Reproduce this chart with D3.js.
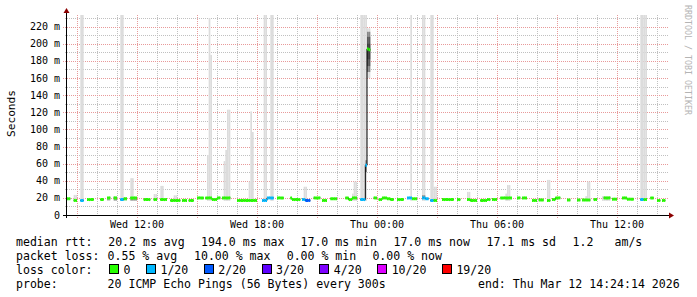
<!DOCTYPE html>
<html><head><meta charset="utf-8">
<script src="https://cdn.jsdelivr.net/npm/d3@7"></script>
<style>body{margin:0;background:#fff}svg{display:block}</style>
</head><body>
<svg id="c" width="697" height="297"></svg>
<script>
const N = null;
const startTime = new Date(2026, 2, 11, 8, 30);
const endTime = new Date(2026, 2, 12, 14, 30);
const stepMinutes = 5;

// median RTT per 5-minute step (ms), null = no line drawn
const median = [
  19,19,N,N,17,17,N,N,17,17,N,N,
  18,18,18,18,N,N,N,N,18,18,N,N,
  20,20,N,N,20,20,N,N,18,18,19,19,
  N,N,20,20,20,20,N,N,N,N,18,18,
  18,18,N,N,18,18,N,N,18,18,18,18,
  N,N,17,17,17,17,17,17,N,17,17,17,
  N,17,17,17,N,N,20,20,20,20,N,20,
  20,20,20,18,18,18,20,20,N,20,20,20,
  20,20,N,N,N,N,17,17,17,17,17,17,
  17,17,17,17,17,17,N,N,N,17,17,17,
  20,20,20,20,N,N,20,20,20,20,N,N,
  N,N,20,18,18,18,18,18,N,18,18,17,
  17,17,N,N,20,20,20,20,N,17,17,17,
  N,N,19,19,19,19,N,N,N,N,N,20,
  20,18,18,20,20,20,N,N,18,18,18,58,
  194,193,N,N,20,20,N,18,18,20,20,20,
  19,19,18,18,N,N,18,18,18,18,N,N,
  20,20,20,19,19,19,N,N,N,20,20,19,
  19,N,17,17,17,17,N,N,N,18,18,18,
  18,18,18,18,N,N,18,18,N,N,N,N,
  18,18,17,17,17,17,N,N,17,17,17,17,
  18,18,N,18,18,18,N,N,20,20,20,20,
  20,20,20,N,N,N,20,20,N,20,20,20,
  N,N,N,17,17,17,N,17.5,17.5,17.5,N,N,
  17,17,N,18,18,20,20,20,N,N,N,N,
  17.5,17.5,N,N,N,N,17.5,17.5,N,17.5,17.5,17.5,
  17.5,17.5,N,N,18,18,N,N,N,N,20,20,
  20,20,N,18.5,18.5,18.5,N,N,N,20,20,20,
  18.5,18.5,18.5,18.5,N,N,N,N,18,18,18,18,
  N,N,20,20,N,N,17,17,N,17,17,N
];

// steps with packet loss (count out of 20 pings)
const lossSteps  = [8,9,32,33,117,118,119,120,121,122,123,141,142,143,144,145,176,177,178,179,204,205,206,213,214,215,216,218,219,344,345];
const lossCounts = [1,1,1,1,1,1,1,1,1,1,1,1,1,2,2,2,1,1,1,1,1,1,1,1,1,1,1,1,1,1,1];

// smoke (ping spread) per step, ms
const smokeSteps = [4,5,8,9,28,29,32,33,34,35,38,39,40,41,52,53,56,57,64,65,84,85,86,94,95,96,97,109,110,111,118,119,122,123,142,143,171,172,173,176,177,178,179,180,181,206,213,214,218,219,220,221,240,241,263,264,265,288,289,311,312,313,321,322,323,324,325,344,345,346,347];
const smokeLo    = [16.5,16.5,16.5,16.5,16.5,16.5,16.5,16.5,16.5,16.5,16.5,16.5,16.5,16.5,16.5,16.5,16.5,16.5,16.5,16.5,16.5,16.5,16.5,16.5,16.5,16.5,16.5,16.5,16.5,16.5,16.5,16.5,16.5,16.5,16.5,16.5,16.5,16.5,16.5,16.5,16.5,16.5,16.5,160,160,16.5,16.5,16.5,16.5,16.5,16.5,16.5,16.5,16.5,16.5,16.5,16.5,16.5,16.5,16.5,16.5,16.5,16.5,16.5,16.5,16.5,16.5,16.5,16.5,16.5,16.5];
const smokeHi    = [23.5,23.5,250,250,22,22,250,250,21,21,43,43,21,21,24.5,24.5,34,34,23,23,70,230,187,63,76,123,123,39,121,97,250,250,250,250,33,33,25,39,39,250,250,250,250,218,218,250,250,250,250,250,33,33,27,27,25,35,35,41,41,22,39,39,22,22,22,22,22,250,250,250,250];
// dense smoke core (layers accumulate darkness)
const darkSteps = [24,25,28,29,38,39,40,41,179,180,181,180,181,180,181,213,214,283];
const darkLo    = [17,17,17,17,17,17,17,17,50,167,167,174,174,182,182,20,20,18];
const darkHi    = [18.5,18.5,18.5,18.5,18.5,18.5,18.5,18.5,64,214,214,208,208,200,200,23,23,19.5];

const yMax = 233.6;
const yTicks = [0,20,40,60,80,100,120,140,160,180,200,220];
const yMinorTicks = [10,30,50,70,90,110,130,150,170,190,210,230];

const lossLabels = ["0","1/20","2/20","3/20","4/20","10/20","19/20"];
const lossColors = ["#26ff00","#00b8ff","#0059ff","#5e00ff","#7e00ff","#dd00ff","#ff0000"];

const rttLine  = ["median rtt:","20.2 ms avg","194.0 ms max","17.0 ms min","17.0 ms now","17.1 ms sd","1.2","am/s"];
const lossLine = ["packet loss:","0.55 % avg","10.00 % max","0.00 % min","0.00 % now"];
const probeLine = ["probe:","20 ICMP Echo Pings (56 Bytes) every 300s","end: Thu Mar 12 14:24:14 2026"];
const yTitle = "Seconds";
const watermark = "RRDTOOL / TOBI OETIKER";

// ---------- drawing ----------
const svg = d3.select("#c");
const mono = "'DejaVu Sans Mono', monospace";
const L = 67, R = 667, T = 15, B = 215;
const x = d3.scaleTime().domain([startTime, endTime]).range([L, R]);
const y = d3.scaleLinear().domain([0, yMax]).range([B, T]);
const tAt = i => d3.timeMinute.offset(startTime, i * stepMinutes);

function lossCat(c){ if(c<=0) return 0; if(c<=1) return 1; if(c<=2) return 2; if(c<=3) return 3; if(c<=9) return 4; if(c<=18) return 5; return 6; }
const lossByStep = new Map(lossSteps.map((s,k)=>[s, lossCounts[k]]));

// grid
const g = svg.append("g");
const minorX = d3.timeHour.every(1).range(startTime, endTime);
const majorX = d3.timeHour.every(3).range(startTime, endTime);
g.selectAll(".vmin").data(minorX.filter(d => d.getHours()%3 !== 0)).join("line")
  .attr("x1", d => Math.round(x(d))+0.5).attr("x2", d => Math.round(x(d))+0.5)
  .attr("y1", T).attr("y2", B+2).attr("stroke","#c0c0c0").attr("stroke-dasharray","1,1").attr("shape-rendering","crispEdges");
g.selectAll(".hmin").data(yMinorTicks).join("line")
  .attr("x1", L-2).attr("x2", R+2).attr("y1", d => Math.round(y(d))+0.5).attr("y2", d => Math.round(y(d))+0.5)
  .attr("stroke","#c0c0c0").attr("stroke-dasharray","1,1").attr("shape-rendering","crispEdges");
g.selectAll(".vmaj").data(majorX).join("line")
  .attr("x1", d => Math.round(x(d))+0.5).attr("x2", d => Math.round(x(d))+0.5)
  .attr("y1", T).attr("y2", B+3).attr("stroke","#e89a9a").attr("stroke-dasharray","1,1").attr("shape-rendering","crispEdges");
g.selectAll(".hmaj").data(yTicks.filter(d=>d>0)).join("line")
  .attr("x1", L-4).attr("x2", R+2).attr("y1", d => Math.round(y(d))+0.5).attr("y2", d => Math.round(y(d))+0.5)
  .attr("stroke","#e89a9a").attr("stroke-dasharray","1,1").attr("shape-rendering","crispEdges");

// clip
svg.append("clipPath").attr("id","pc").append("rect").attr("x",L).attr("y",T).attr("width",R-L).attr("height",B-T);
const plot = svg.append("g").attr("clip-path","url(#pc)");

// smoke
plot.selectAll(".smoke").data(smokeSteps.map((s,k)=>({s, lo:smokeLo[k], hi:smokeHi[k]}))).join("rect")
  .attr("x", d => x(tAt(d.s))).attr("width", d => x(tAt(d.s+1)) - x(tAt(d.s)))
  .attr("y", d => y(d.hi)).attr("height", d => y(d.lo) - y(d.hi)).attr("fill","#dcdcdc");
plot.selectAll(".dark").data(darkSteps.map((s,k)=>({s, lo:darkLo[k], hi:darkHi[k]}))).join("rect")
  .attr("x", d => x(tAt(d.s))).attr("width", d => x(tAt(d.s+1)) - x(tAt(d.s)))
  .attr("y", d => y(d.hi)).attr("height", d => y(d.lo) - y(d.hi)).attr("fill","#222").attr("fill-opacity",0.45);

// thin black median step line
const pts = [];
median.forEach((v,i) => { pts.push({t:tAt(i), v}); pts.push({t:tAt(i+1), v}); });
plot.append("path").datum(pts)
  .attr("d", d3.line().defined(p => p.v != null).x(p => x(p.t)).y(p => y(p.v)))
  .attr("fill","none").attr("stroke","#000").attr("stroke-width",1);

// coloured median segments
const segs = median.map((v,i)=>({i, v, c: lossCat(lossByStep.get(i)||0)})).filter(d => d.v != null);
plot.selectAll(".med").data(segs).join("line")
  .attr("x1", d => x(tAt(d.i))).attr("x2", d => x(tAt(d.i+1)))
  .attr("y1", d => y(d.v)).attr("y2", d => y(d.v))
  .attr("stroke", d => lossColors[d.c]).attr("stroke-width", 3);

// axes
const ax = svg.append("g").attr("shape-rendering","crispEdges");
ax.append("line").attr("x1",L-4).attr("x2",R+4).attr("y1",B+0.5).attr("y2",B+0.5).attr("stroke","#000");
ax.append("line").attr("x1",L-0.5).attr("x2",L-0.5).attr("y1",B+3).attr("y2",T-4).attr("stroke","#000");
svg.append("path").attr("d",`M${L-0.5},8 L${L-3.5},13 L${L+2.5},13 Z`).attr("fill","#8b0000");
svg.append("path").attr("d",`M${R+7},${B+0.5} L${R+2},${B-2.5} L${R+2},${B+3.5} Z`).attr("fill","#8b0000");

// y tick labels
svg.selectAll(".yl").data(yTicks).join("text")
  .attr("x", 60).attr("y", d => y(d)+3.6).attr("text-anchor","end")
  .attr("font-family", mono).attr("font-size","10px").attr("fill","#000")
  .text(d => d === 0 ? "0" : d + " m");
// x tick labels
const xLabelTicks = d3.timeHour.every(6).range(startTime, endTime);
const fmt = d3.timeFormat("%a %H:%M");
svg.selectAll(".xl").data(xLabelTicks).join("text")
  .attr("x", d => x(d)).attr("y", 228).attr("text-anchor","middle")
  .attr("font-family", mono).attr("font-size","10px").attr("fill","#000")
  .text(d => fmt(d));

// y title
svg.append("text").attr("transform","translate(15,113.5) rotate(-90)").attr("text-anchor","middle")
  .attr("font-family", mono).attr("font-size","11.2px").attr("fill","#000").text(yTitle);
// watermark
svg.append("text").attr("transform","translate(684.5,5) rotate(90)")
  .attr("font-family", mono).attr("font-size","8.3px").attr("fill","#b4b4b4").text(watermark);

// legend
const lf = "11.55px";
function row(items, xs, yb){
  svg.append("g").selectAll("text").data(items).join("text")
    .attr("x", (d,k) => xs[k]).attr("y", yb).attr("font-family", mono).attr("font-size", lf)
    .attr("fill","#000").attr("xml:space","preserve").text(d => d);
}
row(rttLine, [16,108.2,201,300.5,393.5,486.5,572.5,614.5], 245.5);
row(lossLine, [16,107.6,194,286.7,372.4], 259.8);
row(probeLine, [16,107.6,478], 288.4);
svg.append("text").attr("x",16).attr("y",274.1).attr("font-family",mono).attr("font-size",lf).text("loss color:");
let lx = 109;
lossLabels.forEach((lab,k) => {
  svg.append("rect").attr("x", lx+0.5).attr("y", 264.5).attr("width", 9).attr("height", 9)
    .attr("fill", lossColors[k]).attr("stroke","#000").attr("stroke-width",1).attr("shape-rendering","crispEdges");
  svg.append("text").attr("x", lx+14.5).attr("y", 274.1).attr("font-family",mono).attr("font-size",lf).text(lab);
  lx += 14.5 + lab.length*6.95 + 15.5;
});
</script>
</body></html>
